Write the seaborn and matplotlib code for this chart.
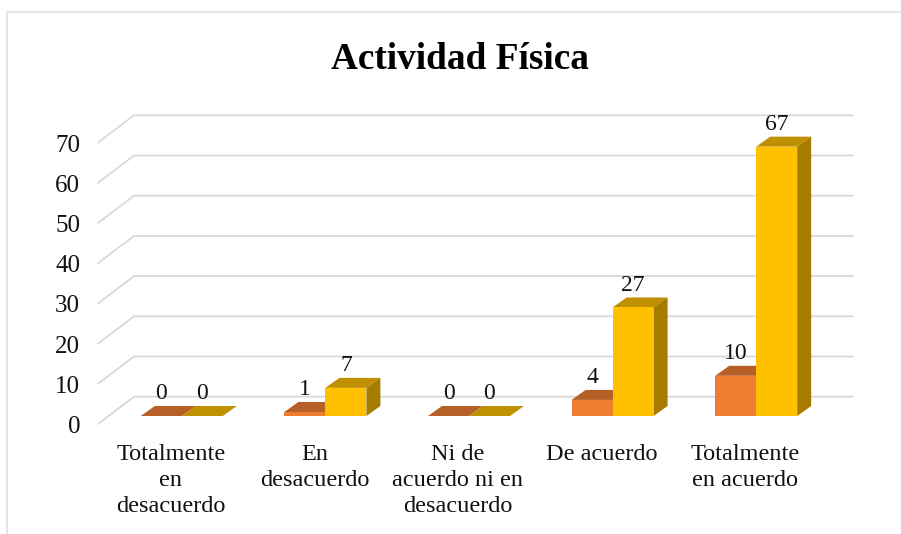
import matplotlib
matplotlib.use("Agg")
import matplotlib.pyplot as plt
from matplotlib.lines import Line2D
from matplotlib.patches import Polygon
from matplotlib.transforms import Affine2D
import pandas as pd
import seaborn as sns

categories = ["Totalmente\nen\ndesacuerdo", "En\ndesacuerdo", "Ni de\nacuerdo ni en\ndesacuerdo",
              "De acuerdo", "Totalmente\nen acuerdo"]
serie_a = [0, 1, 0, 4, 10]
serie_b = [0, 7, 0, 27, 67]
y_ticks = [0, 10, 20, 30, 40, 50, 60, 70]

front_colors = ["#ED7D31", "#FFC000"]
top_colors = ["#B65F26", "#BF9000"]
side_colors = ["#9E5322", "#A67C00"]
grid_color = "#D9D9D9"

df = pd.DataFrame({
    "categoria": categories * 2,
    "valor": serie_a + serie_b,
    "serie": ["a"] * 5 + ["b"] * 5,
})

sns.set_theme(style="white")
plt.rcParams["font.family"] = ["Liberation Serif", "DejaVu Serif"]

W, H = 901, 534
fig = plt.figure(figsize=(W / 100, H / 100), dpi=100)

# plot area in pixels of the image
left, right, base, top = 110.0, 828.0, 416, 134.6
ax = fig.add_axes([left / W, 1 - base / H, (right - left) / W, (base - top) / H])

sns.barplot(data=df, x="categoria", y="valor", hue="serie", palette=front_colors,
            width=0.571, gap=0, saturation=1, legend=False, ax=ax)
ax.set_xlim(-0.5, 4.5)
ax.set_ylim(0, 70)
ax.set_xlabel("")
ax.set_ylabel("")
ax.patch.set_alpha(0)
sns.despine(ax=ax, left=True, bottom=True)

px_x = (right - left) / 5
px_y = (base - top) / 70

# fake 3d: depth of each bar, in data units
depth_x = 14 / px_x
depth_y = 10 / px_y

for i, bars in enumerate(ax.containers):
    for bar in bars:
        x0 = bar.get_x()
        x1 = x0 + bar.get_width()
        v = bar.get_height()
        bar.set_zorder(5 + 2 * i)
        bar.set_edgecolor("none")
        bar.set_clip_on(False)
        ax.add_patch(Polygon([(x0, v), (x1, v), (x1 + depth_x, v + depth_y), (x0 + depth_x, v + depth_y)],
                             closed=True, facecolor=top_colors[i], edgecolor="none",
                             zorder=4 + 2 * i, clip_on=False))
        if v > 0:
            ax.add_patch(Polygon([(x1, 0), (x1, v), (x1 + depth_x, v + depth_y), (x1 + depth_x, depth_y)],
                                 closed=True, facecolor=side_colors[i], edgecolor="none",
                                 zorder=4 + 2 * i, clip_on=False))
        ax.annotate(str(int(v)), (bar.get_x() + bar.get_width() / 2, v), xytext=(0, 11.9),
                    textcoords="offset points", ha="center", va="baseline",
                    fontsize=17, color="#111111", zorder=20, annotation_clip=False)

# back wall lines and the slanted floor part, behind the axes
for t in y_ticks:
    y_px = base - t * px_y
    xs = [98 / W, 134 / W, 853 / W]
    ys = [1 - (y_px + 8) / H, 1 - (y_px - 19.3) / H, 1 - (y_px - 19.3) / H]
    fig.add_artist(Line2D(xs, ys, color=grid_color, lw=1.3, zorder=-1, solid_joinstyle="miter"))

# chart frame
fig.add_artist(Line2D([7 / W, 7 / W, 1], [0, 1 - 12 / H, 1 - 12 / H], color="#E0E0E0", lw=1.2, zorder=-1))

ax.set_yticks(y_ticks)
ax.set_yticklabels([str(t) for t in y_ticks], fontsize=18, color="#111111")
ax.tick_params(axis="y", length=0, pad=21.5)
ax.tick_params(axis="x", length=0, pad=20, labelsize=17.5, labelcolor="#111111")

for lab in ax.get_yticklabels():
    lab.set_transform(lab.get_transform() + Affine2D().translate(0, -8.5))
for lab in ax.get_xticklabels():
    lab.set_transform(lab.get_transform() + Affine2D().translate(-11, 0))
    lab.set_linespacing(1.33)

fig.text(460 / W, 1 - 69 / H, "Actividad Física", fontsize=26.8, fontweight="bold",
         ha="center", va="baseline", color="black")

fig.savefig("out.png", dpi=100, facecolor="white")
